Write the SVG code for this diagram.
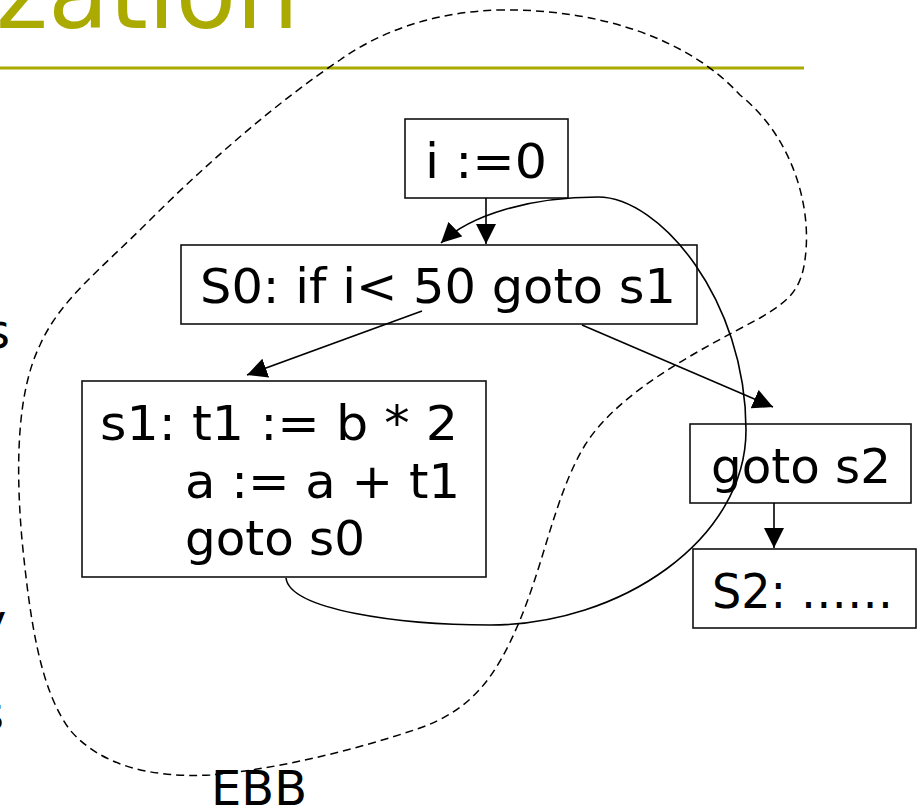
<svg xmlns="http://www.w3.org/2000/svg" width="922" height="805" viewBox="0 0 922 805">
<style>
.t{font-family:"DejaVu Sans","Liberation Sans",sans-serif;font-size:48px;fill:#000}
.box{fill:#fff;stroke:#111;stroke-width:1.6}
.edge{fill:none;stroke:#000;stroke-width:1.6}
.ebb{fill:none;stroke:#000;stroke-width:1.5;stroke-dasharray:8 5}
.title{font-family:"DejaVu Sans","Liberation Sans",sans-serif;font-size:100px;fill:#AAAA00}
</style>
<defs>
<marker id="ah" markerUnits="userSpaceOnUse" markerWidth="20" markerHeight="20" refX="20" refY="10" orient="auto" viewBox="0 0 20 20">
<path d="M0,0 L20,10 L0,20 z" fill="#000"/>
</marker>
</defs>
<rect width="922" height="805" fill="#fff"/>
<text class="title" x="-4" y="28" textLength="303" lengthAdjust="spacingAndGlyphs">zation</text>
<rect x="0" y="66.5" width="804" height="3" fill="#AAAA00"/>
<text class="t" x="-15" y="348">s</text>
<text class="t" x="-22" y="638">y</text>
<text class="t" x="-21" y="730">s</text>
<path id="ebb-region" class="ebb" d="M497 10 C600 8,690 40,740 95 C790 135,810 200,806 250 C803 290,790 300,760 318 C700 350,620 390,585 445 C555 495,545 560,520 620 C495 680,470 710,420 728 C350 752,270 770,210 775 C150 778,100 765,70 730 C40 690,30 620,22 540 C15 460,18 390,40 345 C60 300,100 270,150 220 C210 160,280 100,340 60 C385 28,440 12,497 10 Z"/>
<g id="n-init">
<rect class="box" x="405" y="119" width="163" height="79"/>
<text class="t" x="425" y="178" textLength="122" lengthAdjust="spacingAndGlyphs">i :=0</text>
</g>
<g id="n-s0">
<rect class="box" x="181" y="245" width="516" height="79"/>
<text class="t" x="200" y="303" textLength="476" lengthAdjust="spacingAndGlyphs">S0: if i&lt; 50 goto s1</text>
</g>
<g id="n-s1">
<rect class="box" x="82" y="381" width="404" height="196"/>
<text class="t" x="100" y="440" textLength="358" lengthAdjust="spacingAndGlyphs">s1: t1 := b * 2</text>
<text class="t" x="185" y="498" textLength="275" lengthAdjust="spacingAndGlyphs">a := a + t1</text>
<text class="t" x="185" y="555" textLength="180" lengthAdjust="spacingAndGlyphs">goto s0</text>
</g>
<g id="n-goto-s2">
<rect class="box" x="690" y="424" width="221" height="79"/>
<text class="t" x="711" y="483" textLength="180" lengthAdjust="spacingAndGlyphs">goto s2</text>
</g>
<g id="n-s2">
<rect class="box" x="693" y="549" width="223" height="79"/>
<text class="t" x="712" y="608" textLength="181" lengthAdjust="spacingAndGlyphs">S2: ……</text>
</g>
<g id="connectors">
<line class="edge" x1="486" y1="198" x2="486" y2="244" marker-end="url(#ah)"/>
<line class="edge" x1="422" y1="311" x2="247" y2="375" marker-end="url(#ah)"/>
<line class="edge" x1="582" y1="325" x2="773" y2="407" marker-end="url(#ah)"/>
<line class="edge" x1="774" y1="503" x2="774" y2="548" marker-end="url(#ah)"/>
<path class="edge" d="M286 578 C290 610,400 625,490 625 C620 625,746 540,746 430 C746 300,660 197,598 197 C530 197,470 215,441 243" marker-end="url(#ah)"/>
</g>
<text class="t" x="211" y="805" textLength="96" lengthAdjust="spacingAndGlyphs">EBB</text>
</svg>
